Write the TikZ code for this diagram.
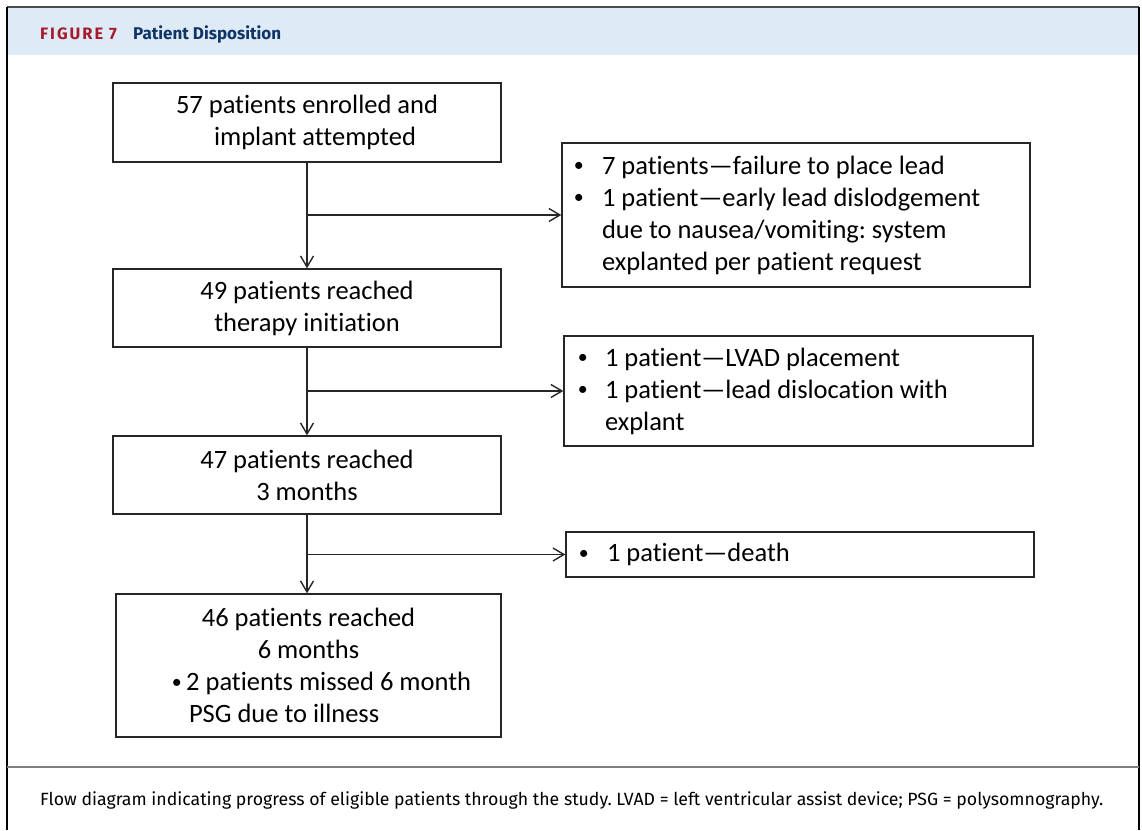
\documentclass[tikz,border=0pt]{standalone}
\usepackage{graphicx}
\usepackage{fontspec}
\setmainfont{Carlito}[Ligatures=NoCommon]
\newfontfamily\hdfont{Fira Sans}
\usetikzlibrary{arrows.meta}
\definecolor{hdblue}{HTML}{DEEAF6}
\definecolor{figred}{HTML}{A6192E}
\definecolor{titleblue}{HTML}{0F3466}
\definecolor{boxline}{HTML}{262626}
\frenchspacing
\newcommand{\bulmark}{\raisebox{2.2pt}{\scalebox{0.75}{•}}}
\begin{document}
\begin{tikzpicture}[x=1pt,y=-1pt,
  box/.style={draw=boxline, line width=1.4pt, rectangle, inner sep=0pt,
    font=\fontsize{26.5}{32}\selectfont\frenchspacing},
  flow/.style={draw=boxline, line width=1.4pt,
    -{Straight Barb[length=11pt,width=13pt,line width=1.4pt]}},
  hdtext/.style={anchor=base west, inner sep=0pt}]
\useasboundingbox (0,0) rectangle (1142,830);
% frame
\fill[hdblue] (8,8) rectangle (1138,55);
\draw[gray!60!black, line width=1.2pt] (7,7) -- (1139,7);
\draw[black, line width=2pt] (7,7) -- (7,830);
\draw[black, line width=2pt] (1139,7) -- (1139,830);
\draw[gray, line width=1.5pt] (7,767) -- (1139,767);
% header
\node[hdtext, text=figred, font=\hdfont\bfseries\fontsize{16.5}{19}\selectfont\addfontfeature{LetterSpace=12}] (figlabel) at (40,39.5) {FIGURE 7};
\node[hdtext, text=titleblue, font=\hdfont\bfseries\fontsize{17}{20}\selectfont] (figtitle) at (133,39.5) {Patient Disposition};
% caption
\node[hdtext, font=\hdfont\fontsize{17.7}{21}\selectfont] (caption) at (40,805) {Flow diagram indicating progress of eligible patients through the study. LVAD = left ventricular assist device; PSG = polysomnography.};
% main boxes
\node[box, minimum width=388pt, minimum height=79pt, align=center] (b1) at (307,122.5)
  {57 patients enrolled and\\\hspace*{16pt}implant attempted};
\node[box, minimum width=388pt, minimum height=78pt, align=center] (b2) at (307,308)
  {49 patients reached\\therapy initiation};
\node[box, minimum width=388pt, minimum height=78pt, align=center] (b3) at (307,475)
  {47 patients reached\\3 months};
\node[box, minimum width=385pt, minimum height=143pt, text width=370pt, align=flush left] (b4) at (308.5,665.5)
  {\makebox[370pt][c]{46 patients reached}\\
   \makebox[370pt][c]{6 months}\\
   \hspace*{48.4pt}\bulmark\hspace{4.4pt}2 patients missed 6 month\\
   \hspace*{65.5pt}PSG due to illness};
% side boxes
\node[box, minimum width=468pt, minimum height=144pt, text width=447.2pt, align=flush left] (r1) at (796,215)
  {\makebox[29.6pt][l]{\hspace{1.5pt}\bulmark}7 patients—failure to place lead\\
   \makebox[29.6pt][l]{\hspace{1.5pt}\bulmark}1 patient—early lead dislodgement\\
   \hspace*{29.6pt}due to nausea/vomiting: system\\
   \hspace*{29.6pt}explanted per patient request};
\node[box, minimum width=469pt, minimum height=110pt, text width=444.2pt, align=flush left] (r2) at (798.5,391)
  {\makebox[28.6pt][l]{\hspace{1.5pt}\bulmark}1 patient—LVAD placement\\
   \makebox[28.6pt][l]{\hspace{1.5pt}\bulmark}1 patient—lead dislocation with\\
   \hspace*{28.6pt}explant};
\node[box, minimum width=468pt, minimum height=45pt, text width=445.2pt, align=flush left] (r3) at (800,554.5)
  {\makebox[29.6pt][l]{\hspace{1.5pt}\bulmark}1 patient—death};
% connectors
\coordinate (j1) at (b1.south |- r1.west);
\coordinate (j2) at (b2.south |- r2.west);
\coordinate (j3) at (b3.south |- r3.west);
\draw[flow] (b1.south) -- (b2.north);
\draw[flow] (b2.south) -- (b3.north);
\draw[flow] (b3.south) -- (b3.south |- b4.north);
\draw[flow] (j1) -- (r1.west);
\draw[flow] (j2) -- (r2.west);
\draw[flow] (j3) -- (r3.west);
\end{tikzpicture}
\end{document}
